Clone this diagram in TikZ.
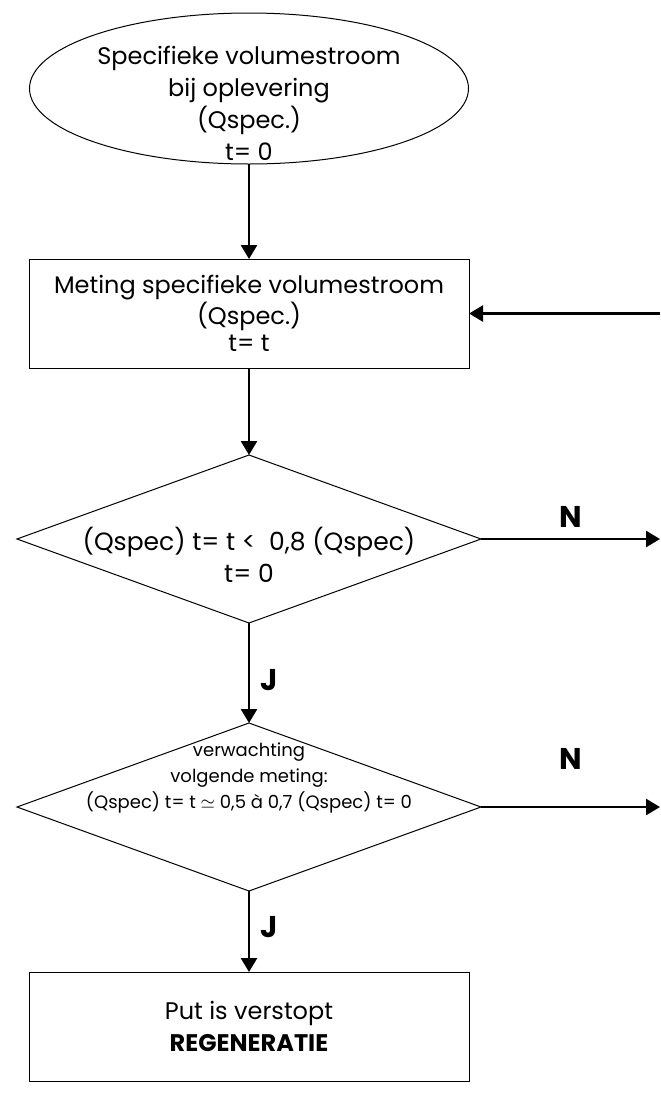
\documentclass[tikz,border=0pt]{standalone}
\usepackage{fontspec}
\setmainfont{Poppins}
\usetikzlibrary{positioning, arrows.meta, shapes.geometric}

\begin{document}
\begin{tikzpicture}[
    kader/.style={draw, line width=0.5pt, inner sep=0pt, outer sep=0pt},
    ovaal/.style={kader, ellipse, minimum width=219.5pt, minimum height=75.5pt},
    blok/.style={kader, rectangle, align=center, minimum width=220pt, minimum height=54.5pt},
    ruit/.style={kader, diamond, minimum width=232pt, minimum height=84pt},
    tekst/.style={align=center, font=\fontsize{12}{16}\selectfont},
    pijl/.style={-{Triangle[length=7pt, width=8pt]}, line width=1.3pt},
    antw/.style={font=\bfseries\fontsize{15}{17}\selectfont}
]
\useasboundingbox (0,0) rectangle (330pt,-546.5pt);
\node[ovaal] (start) at (124.5pt,-44.25pt) {};
\node[tekst] (starttekst) at ([yshift=-7.5pt]start.center) {Specifieke volumestroom\\bij oplevering\\(Qspec.)\\t= 0};
\node[blok, below=47.5pt of start, font=\fontsize{12}{13.75}\selectfont] (meting) {Meting specifieke volumestroom\\(Qspec.)\\t= t};
\node[ruit, below=43.5pt of meting] (vraag1) {};
\node[tekst, font=\fontsize{12.5}{16}\selectfont] (vraag1tekst) at ([yshift=-7.75pt]vraag1.center) {(Qspec) t= t <\ \ 0,8 (Qspec)\\t= 0};
\node[ruit, below=50pt of vraag1] (vraag2) {};
\node[tekst, font=\fontsize{9}{13}\selectfont] (vraag2tekst) at ([yshift=14.5pt]vraag2.center) {verwachting\\volgende meting:\\(Qspec) t= t $\simeq$ 0,5 à 0,7 (Qspec) t= 0};
\node[blok, below=40.5pt of vraag2, font=\fontsize{12}{16}\selectfont] (regen) {Put is verstopt\\\textbf{REGENERATIE}};
\coordinate (rand) at (330pt,0);
\draw[pijl] (start) -- (meting);
\draw[pijl] (meting) -- (vraag1);
\draw[pijl] (vraag1) -- node[antw, right=2pt, pos=0.57] {J} (vraag2);
\draw[pijl] (vraag2) -- node[antw, right=2pt, pos=0.45] {J} (regen);
\draw[pijl] (meting.east -| rand) -- (meting.east);
\draw[pijl] (vraag1.east) -- node[antw, above=2pt] {N} (vraag1.east -| rand);
\draw[pijl] (vraag2.east) -- node[antw, above=15pt] {N} (vraag2.east -| rand);
\end{tikzpicture}
\end{document}
